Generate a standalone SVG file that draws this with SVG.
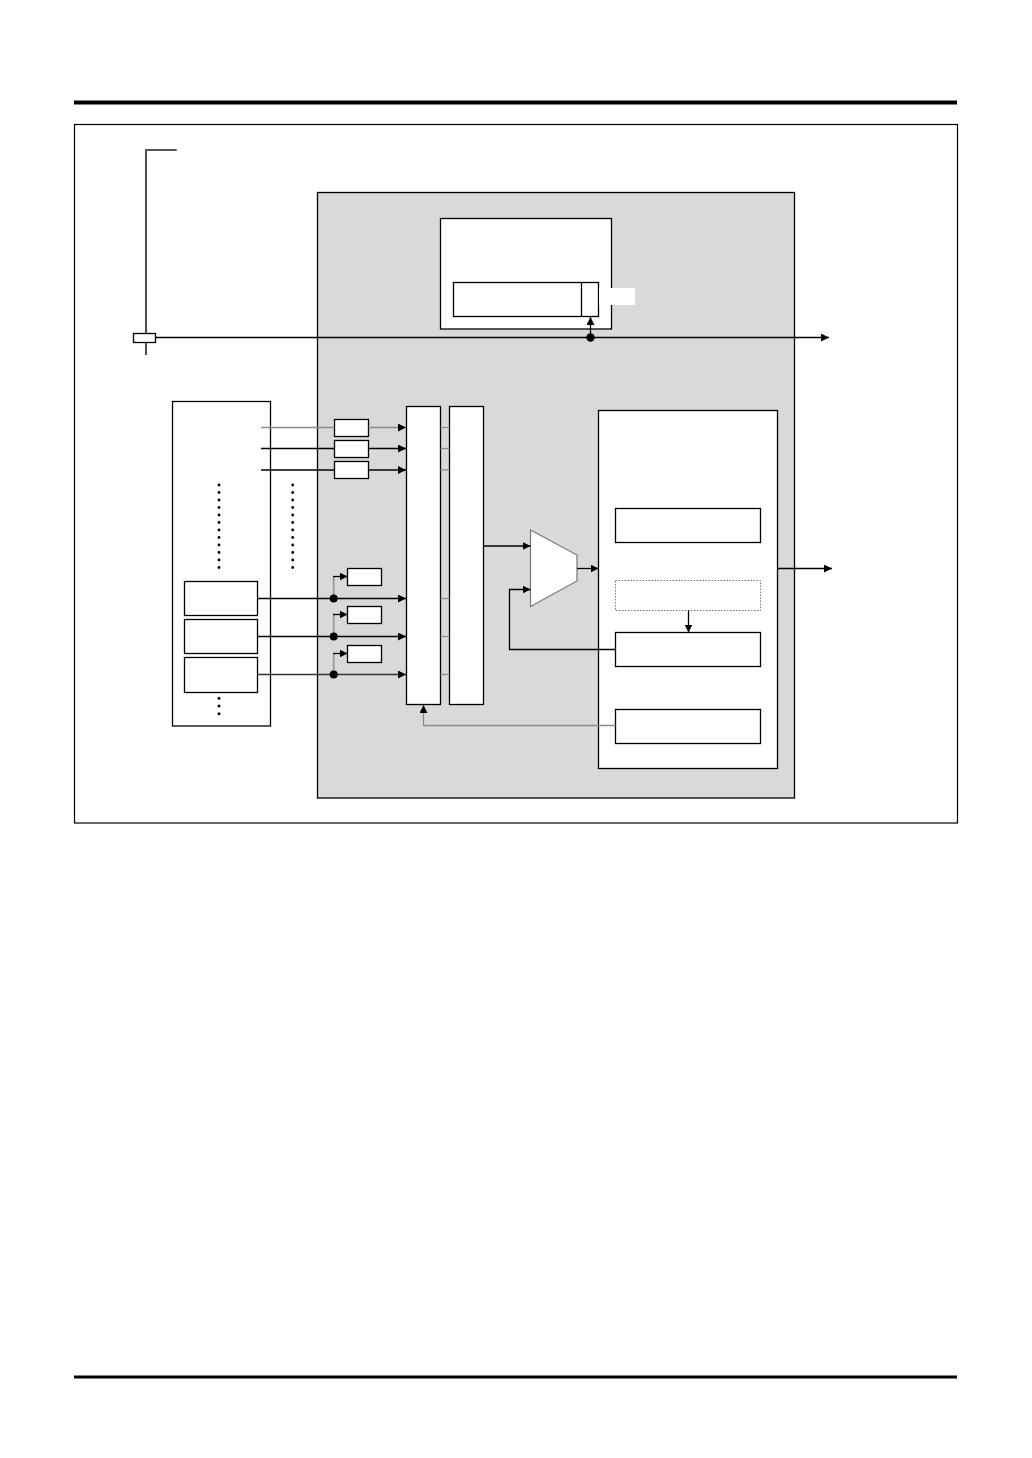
<svg xmlns="http://www.w3.org/2000/svg" width="1032" height="1458" viewBox="0 0 1032 1458">
<style>
.box{fill:#fff;stroke:#000;stroke-width:1.3}
.ln{fill:none;stroke:#000;stroke-width:1.3}
.gl{fill:none;stroke:#8a8a8a;stroke-width:1.3}
.dot{fill:#000}
.dd{fill:#000}
</style>
<defs>
<marker id="ah" viewBox="0 0 10 10" refX="10" refY="5" markerWidth="8" markerHeight="8" markerUnits="userSpaceOnUse" orient="auto">
<path d="M0,0 L10,5 L0,10 z" fill="#000"/>
</marker>
</defs>
<rect width="1032" height="1458" fill="#fff"/>
<g id="rules">
<rect x="74" y="100.5" width="883" height="4" fill="#000"/>
<rect x="74" y="1375.5" width="883" height="3" fill="#000"/>
<rect x="74.5" y="124.5" width="883" height="698.5" fill="none" stroke="#000" stroke-width="1.2"/>
</g>
<g id="chip">
<rect x="317.5" y="192.5" width="477" height="605.5" fill="#d9d9d9" stroke="#000" stroke-width="1.3"/>
</g>
<g id="topblock">
<rect class="box" x="440.5" y="218.5" width="171" height="110.5"/>
<rect class="box" x="453.5" y="282.5" width="145" height="34"/>
<line class="ln" x1="581.5" y1="282.5" x2="581.5" y2="316.5"/>
<rect x="599" y="288" width="36" height="17" fill="#fff"/>
</g>
<g id="memory">
<rect class="box" x="172.5" y="401.5" width="98" height="324.5"/>
<rect class="box" x="184.5" y="581.5" width="73" height="34"/>
<rect class="box" x="184.5" y="619.5" width="73" height="34"/>
<rect class="box" x="184.5" y="657.5" width="73" height="35"/>
<g class="dd">
<circle cx="219" cy="485" r="1.4"/><circle cx="219" cy="492.5" r="1.4"/><circle cx="219" cy="500" r="1.4"/><circle cx="219" cy="507.5" r="1.4"/><circle cx="219" cy="515" r="1.4"/><circle cx="219" cy="522.5" r="1.4"/><circle cx="219" cy="530" r="1.4"/><circle cx="219" cy="537.5" r="1.4"/><circle cx="219" cy="545" r="1.4"/><circle cx="219" cy="552.5" r="1.4"/><circle cx="219" cy="560" r="1.4"/><circle cx="219" cy="567.5" r="1.4"/>
<circle cx="292.7" cy="485" r="1.4"/><circle cx="292.7" cy="492.5" r="1.4"/><circle cx="292.7" cy="500" r="1.4"/><circle cx="292.7" cy="507.5" r="1.4"/><circle cx="292.7" cy="515" r="1.4"/><circle cx="292.7" cy="522.5" r="1.4"/><circle cx="292.7" cy="530" r="1.4"/><circle cx="292.7" cy="537.5" r="1.4"/><circle cx="292.7" cy="545" r="1.4"/><circle cx="292.7" cy="552.5" r="1.4"/><circle cx="292.7" cy="560" r="1.4"/><circle cx="292.7" cy="567.5" r="1.4"/>
<circle cx="219" cy="698.3" r="1.5"/><circle cx="219" cy="706" r="1.5"/><circle cx="219" cy="713.7" r="1.5"/>
</g>
</g>
<g id="smallboxes">
<rect class="box" x="334.5" y="419.5" width="34" height="17"/>
<rect class="box" x="334.5" y="440.5" width="34" height="17"/>
<rect class="box" x="334.5" y="461.5" width="34" height="17"/>
<rect class="box" x="347.5" y="568.5" width="34" height="17"/>
<rect class="box" x="347.5" y="606.5" width="34" height="17"/>
<rect class="box" x="347.5" y="645.5" width="34" height="17"/>
</g>
<g id="columns">
<rect class="box" x="406.5" y="406.5" width="34" height="298"/>
<rect class="box" x="449.5" y="406.5" width="34" height="298"/>
</g>
<g id="mux">
<path d="M530.5,530 L577,555 L577,581 L530.5,606.5 z" fill="#fff" stroke="#777" stroke-width="1.2"/>
</g>
<g id="controller">
<rect class="box" x="598.5" y="410.5" width="179" height="358"/>
<rect class="box" x="615.5" y="508.5" width="145" height="34"/>
<rect x="615.5" y="580.5" width="145" height="30" fill="#fff" stroke="#777" stroke-width="1" stroke-dasharray="1.5,1.5"/>
<rect class="box" x="615.5" y="632.5" width="145" height="34"/>
<rect class="box" x="615.5" y="709.5" width="145" height="34"/>
</g>
<g id="connectors">
<path d="M146,355 V150 H176.5" fill="none" stroke="#000" stroke-width="1.4"/>
<line x1="146" y1="150" x2="176.5" y2="150" stroke="#555" stroke-width="2"/>
<rect class="box" x="133.5" y="333.5" width="22" height="9"/>
<line class="ln" x1="155.5" y1="337.5" x2="829" y2="337.5" marker-end="url(#ah)"/>
<circle class="dot" cx="590.5" cy="337.5" r="4.2"/>
<line class="ln" x1="590.5" y1="337.5" x2="590.5" y2="317" marker-end="url(#ah)"/>
<line class="gl" x1="261" y1="427.5" x2="334.5" y2="427.5"/>
<line class="gl" x1="368.5" y1="427.5" x2="406" y2="427.5" marker-end="url(#ah)"/>
<line class="ln" x1="261" y1="448.5" x2="334.5" y2="448.5"/>
<line class="ln" x1="368.5" y1="448.5" x2="406" y2="448.5" marker-end="url(#ah)"/>
<line class="ln" x1="261" y1="470" x2="334.5" y2="470"/>
<line class="ln" x1="368.5" y1="470" x2="406" y2="470" marker-end="url(#ah)"/>
<line class="ln" x1="257.5" y1="598.5" x2="406" y2="598.5" marker-end="url(#ah)"/>
<line class="ln" x1="257.5" y1="636.5" x2="406" y2="636.5" marker-end="url(#ah)"/>
<line x1="257.5" y1="674.5" x2="406" y2="674.5" stroke="#333" stroke-width="1.3" marker-end="url(#ah)"/>
<line x1="333.7" y1="598" x2="333.7" y2="576.5" stroke="#999" stroke-width="1.8"/>
<line class="ln" x1="333" y1="576.5" x2="347.5" y2="576.5" marker-end="url(#ah)"/>
<line x1="333.7" y1="636" x2="333.7" y2="614.5" stroke="#999" stroke-width="1.8"/>
<line class="ln" x1="333" y1="614.5" x2="347.5" y2="614.5" marker-end="url(#ah)"/>
<line x1="333.7" y1="674" x2="333.7" y2="653.5" stroke="#999" stroke-width="1.8"/>
<line class="ln" x1="333" y1="653.5" x2="347.5" y2="653.5" marker-end="url(#ah)"/>
<circle class="dot" cx="333.7" cy="598.5" r="4"/>
<circle class="dot" cx="333.7" cy="636.5" r="4"/>
<circle class="dot" cx="333.7" cy="674.5" r="4"/>
<line class="gl" x1="440.5" y1="427.5" x2="449.5" y2="427.5"/>
<line class="gl" x1="440.5" y1="448.5" x2="449.5" y2="448.5"/>
<line class="gl" x1="440.5" y1="470" x2="449.5" y2="470"/>
<line class="gl" x1="440.5" y1="598.5" x2="449.5" y2="598.5"/>
<line class="gl" x1="440.5" y1="636.5" x2="449.5" y2="636.5"/>
<line class="gl" x1="440.5" y1="674.5" x2="449.5" y2="674.5"/>
<line class="ln" x1="483.5" y1="546" x2="530.5" y2="546" marker-end="url(#ah)"/>
<line class="ln" x1="577" y1="568.5" x2="598.5" y2="568.5" marker-end="url(#ah)"/>
<path class="ln" d="M615.5,649.5 H509.5 V589.5 H530.5" marker-end="url(#ah)"/>
<line class="ln" x1="688.5" y1="610.5" x2="688.5" y2="632.5" marker-end="url(#ah)"/>
<path class="gl" d="M615.5,725.5 H423.5 V705" marker-end="url(#ah)"/>
<line class="ln" x1="777.5" y1="568.5" x2="832" y2="568.5" marker-end="url(#ah)"/>
</g>
</svg>
